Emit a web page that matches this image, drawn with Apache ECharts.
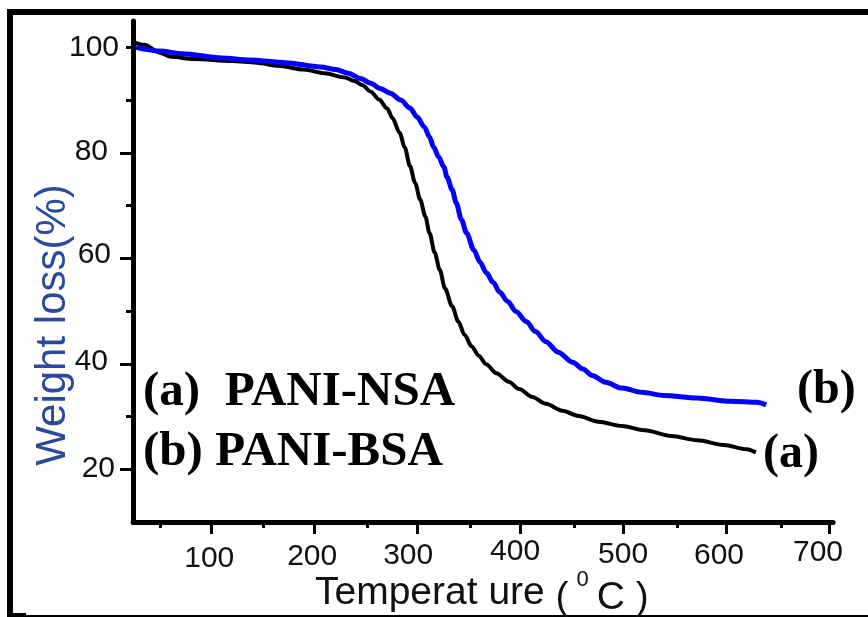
<!DOCTYPE html>
<html><head><meta charset="utf-8">
<script src="https://cdn.jsdelivr.net/npm/echarts@6/dist/echarts.min.js"></script>
<style>html,body{margin:0;padding:0;background:#fff}#c{width:868px;height:617px}</style>
</head><body><div id="c"></div>
<script>
// ---- data ----
const tempA = [24,35,50,61,83,120,144,165,190,210,230,239,247,255,263,271,276,283,288,293,298,303,308,312,317,322,327,334,340,346,353,360,367,377,389,399,412,425,441,457,476,499,521,547,572,598,620,629];
const weightA = [101.0,100.5,99.0,98.2,97.8,97.4,97.1,96.5,95.8,95.1,94.3,93.6,92.8,91.6,90.1,88.4,86.6,83.8,81.0,77.5,74.3,71.1,67.9,64.8,61.1,57.8,54.3,50.9,48.0,45.5,43.3,41.5,39.9,38.2,36.6,35.2,33.7,32.4,31.1,30.1,29.0,28.2,27.4,26.3,25.5,24.6,23.8,23.2];
const tempB = [27,50,72,110,137,172,206,221,233,245,255,264,274,284,293,300,307,312,316,321,326,329,334,338,343,348,355,361,367,374,380,388,396,406,415,425,437,451,461,470,483,499,518,540,572,605,630,639];
const weightB = [100.0,99.3,98.8,98.0,97.6,97.1,96.3,95.8,95.1,94.1,93.2,92.2,91.3,90.0,88.5,86.8,84.9,83.0,81.1,79.2,77.3,75.4,73.0,70.5,67.3,64.8,61.6,59.3,57.3,55.4,53.6,51.8,49.9,48.0,46.1,44.2,42.2,40.3,39.0,37.8,36.5,35.4,34.6,34.0,33.5,32.9,32.7,32.2];
const seriesNames = ['(a)  PANI-NSA', '(b) PANI-BSA'];
const endTags = ['(a)', '(b)'];
const xLabels = [100,200,300,400,500,600,700];
const xMinor = [50,150,250,350,450,550,650];
const yLabels = [20,40,60,80,100];
const yMajor = [20,40,60,80];
const yMinor = [30,50,70,90,100];
const xTitle = 'Temperat ure';
const yTitle = 'Weight loss(%)';

// ---- styling (label nudges to mimic the wobbly source labels) ----
const xNudge = {100:[13,-2],200:[10,-2],300:[7,-9],400:[0,-5],500:[5,0],600:[8,-7],700:[1,-11]};
const yNudge = {100:[0,0],80:[-1,11],60:[-4,8],40:[-2,11],20:[-1,4]};
const sans = '"Liberation Sans", Arial, sans-serif';
const serif = '"Liberation Serif", "Times New Roman", serif';
const txt = '#111';

const xRich = {}, yRich = {};
xLabels.forEach(v => {
  const [dy, dx] = xNudge[v];
  xRich['x' + v] = {fontSize: 30, fontFamily: sans, color: txt, lineHeight: 30,
    padding: [dy, dx < 0 ? -2 * dx : 0, 0, dx > 0 ? 2 * dx : 0]};
});
yLabels.forEach(v => {
  const [dy, pr] = yNudge[v];
  yRich['y' + v] = {fontSize: 30, fontFamily: sans, color: txt, lineHeight: 30,
    padding: [dy > 0 ? 2 * dy : 0, pr, dy < 0 ? -2 * dy : 0, 0]};
});

const gridBox = {left: 133, right: 31, top: 21, bottom: 95};
const chart = echarts.init(document.getElementById('c'), null, {renderer: 'canvas'});
const axisLineStyle = {color: '#000', width: 5};
chart.setOption({
  animation: false,
  backgroundColor: '#fff',
  grid: [Object.assign({}, gridBox), Object.assign({}, gridBox)],
  xAxis: [{
    type: 'value', gridIndex: 0, min: 24, max: 704, position: 'bottom',
    axisLine: {show: true, onZero: false, lineStyle: axisLineStyle},
    axisTick: {show: true, inside: false, length: 12, lineStyle: {color: '#000', width: 3}, customValues: xLabels},
    axisLabel: {show: true, margin: 15, customValues: xLabels, formatter: v => '{x' + v + '|' + v + '}', rich: xRich},
    splitLine: {show: false}
  }, {
    type: 'value', gridIndex: 1, min: 24, max: 704, position: 'bottom',
    axisLine: {show: false, onZero: false},
    axisTick: {show: true, inside: false, length: 6, lineStyle: {color: '#000', width: 3}, customValues: xMinor},
    axisLabel: {show: false},
    splitLine: {show: false}
  }],
  yAxis: [{
    type: 'value', gridIndex: 0, min: 10, max: 105, position: 'left',
    axisLine: {show: true, onZero: false, lineStyle: axisLineStyle},
    axisTick: {show: true, inside: false, length: 13, lineStyle: {color: '#000', width: 3}, customValues: yMajor},
    axisLabel: {show: true, margin: 14, customValues: yLabels, formatter: v => '{y' + v + '|' + v + '}', rich: yRich},
    splitLine: {show: false}
  }, {
    type: 'value', gridIndex: 1, min: 10, max: 105, position: 'left',
    axisLine: {show: false, onZero: false},
    axisTick: {show: true, inside: false, length: 7, lineStyle: {color: '#000', width: 3}, customValues: yMinor},
    axisLabel: {show: false},
    splitLine: {show: false}
  }],
  series: [{
    name: seriesNames[0], type: 'line', xAxisIndex: 0, yAxisIndex: 0,
    data: tempA.map((t, i) => [t, weightA[i]]),
    showSymbol: false, smooth: 0.3, smoothMonotone: 'x',
    lineStyle: {color: '#000', width: 4}, z: 3
  }, {
    name: seriesNames[1], type: 'line', xAxisIndex: 0, yAxisIndex: 0,
    data: tempB.map((t, i) => [t, weightB[i]]),
    showSymbol: false, smooth: 0.3, smoothMonotone: 'x',
    lineStyle: {color: '#0000ff', width: 5}, z: 4
  }],
  graphic: [
    // frame
    {type: 'rect', shape: {x: 7, y: 9, width: 861, height: 6}, style: {fill: '#000'}},
    {type: 'rect', shape: {x: 7, y: 9, width: 6, height: 608}, style: {fill: '#000'}},
    {type: 'rect', shape: {x: 7, y: 613, width: 19, height: 4}, style: {fill: '#000'}},
    {type: 'rect', shape: {x: 7, y: 615, width: 861, height: 2}, style: {fill: '#000'}},
    // axis titles
    {type: 'text', x: 53, y: 325, rotation: Math.PI / 2,
      style: {text: yTitle, font: '42px ' + sans, fill: '#2a4a9e', align: 'center', verticalAlign: 'middle'}},
    {type: 'text', x: 315, y: 593,
      style: {text: xTitle + ' {p|(}{s|0}{c|C}{q| )}', font: '39px ' + sans, fill: txt, align: 'left', verticalAlign: 'middle',
        rich: {
          p: {font: '39px ' + sans, fill: txt, padding: [10, 0, 0, 0]},
          s: {font: '22px ' + sans, fill: txt, padding: [0, 0, 26, 8]},
          c: {font: '39px ' + sans, fill: txt, padding: [10, 0, 0, 8]},
          q: {font: '39px ' + sans, fill: txt, padding: [10, 0, 0, 0]}
        }}},
    // legend block
    {type: 'text', x: 143, y: 392,
      style: {text: seriesNames[0], font: 'bold 49px ' + serif, fill: '#000', align: 'left', verticalAlign: 'middle'}},
    {type: 'text', x: 143, y: 452,
      style: {text: seriesNames[1], font: 'bold 49px ' + serif, fill: '#000', align: 'left', verticalAlign: 'middle'}},
    // end tags
    {type: 'text', x: 797, y: 391,
      style: {text: endTags[1], font: 'bold 48px ' + serif, fill: '#000', align: 'left', verticalAlign: 'middle'}},
    {type: 'text', x: 763, y: 455,
      style: {text: endTags[0], font: 'bold 48px ' + serif, fill: '#000', align: 'left', verticalAlign: 'middle'}}
  ]
});
</script>
</body></html>
